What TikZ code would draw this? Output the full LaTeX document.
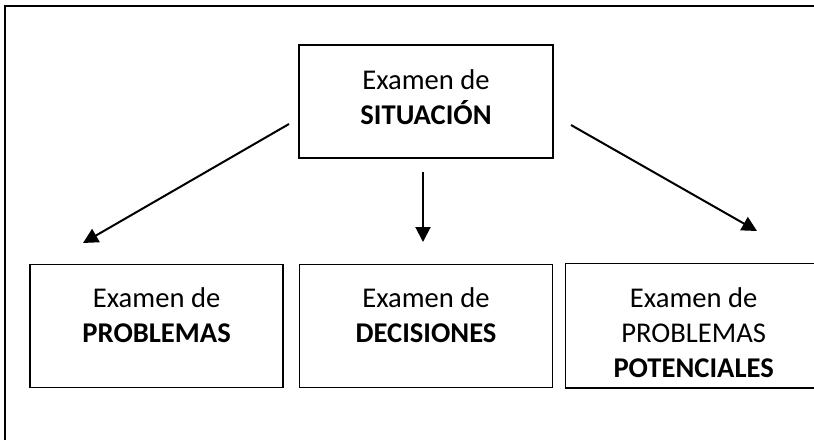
\documentclass[tikz,border=0pt]{standalone}
\usepackage{fontspec}
\setmainfont{Carlito}
\usetikzlibrary{positioning, arrows.meta}

\begin{document}
\begin{tikzpicture}[x=0.5pt, y=-0.5pt,
    caja/.style={rectangle, draw, line width=0.7pt, minimum width=126.5pt, minimum height=61.5pt, inner sep=0pt},
    texto/.style={align=center, inner sep=0pt, font=\fontsize{14.3}{17.5}\selectfont},
    flecha/.style={line width=1pt, -{Triangle[length=7.5pt, width=7.5pt]}}]
  \useasboundingbox (0,0) rectangle (814,440);
  % marco exterior (cortado a la derecha y abajo)
  \draw[line width=1pt] (5,440) -- (5,6) -- (814,6);

  % caja superior
  \node[caja, minimum width=127pt, minimum height=56.5pt] (sit) at (426,101.5) {};
  \node[texto, below=12.5pt of sit.north] (tsit) {Examen de\\\textbf{SITUACIÓN}};

  % cajas inferiores
  \node[caja, below=52.5pt of sit] (dec) {};
  \node[texto, below=12pt of dec.north] (tdec) {Examen de\\\textbf{DECISIONES}};
  \node[caja, left=7.5pt of dec] (probl) {};
  \node[texto, below=12pt of probl.north] (tprobl) {Examen de\\\textbf{PROBLEMAS}};
  \node[caja, draw=none, right=6pt of dec, minimum width=124.75pt] (pot) {};
  \draw[line width=0.7pt] (pot.north east) -- (pot.north west) -- (pot.south west) -- (pot.south east);
  \node[texto, below=12pt of pot.north, xshift=1.5pt] (tpot) {Examen de\\PROBLEMAS\\\textbf{POTENCIALES}};

  % flechas
  \coordinate (a1) at (289,124);
  \coordinate (b1) at (83,243);
  \coordinate (a2) at (423,172);
  \coordinate (b2) at (423,242);
  \coordinate (a3) at (571,125);
  \coordinate (b3) at (757,231);
  \draw[flecha] (a1) -- (b1);
  \draw[flecha] (a2) -- (b2);
  \draw[flecha] (a3) -- (b3);
\end{tikzpicture}
\end{document}
